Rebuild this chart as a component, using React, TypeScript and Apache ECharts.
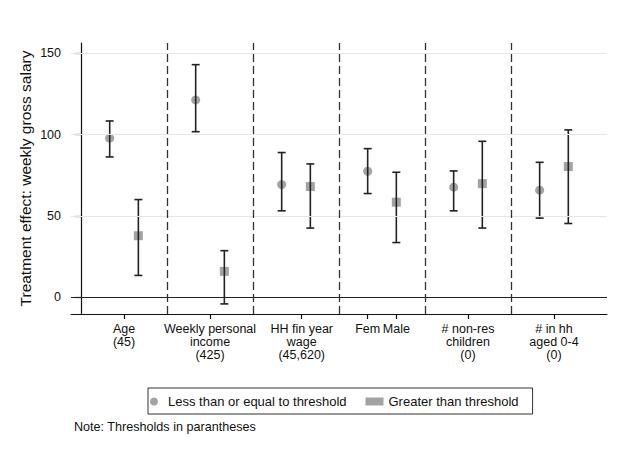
import React, { useEffect, useRef } from "react";
import * as echarts from "echarts";

const groupLabels = [
  "Age\n(45)",
  "Weekly personal\nincome\n(425)",
  "HH fin year\nwage\n(45,620)",
  "Fem",
  "Male",
  "# non-res\nchildren\n(0)",
  "# in hh\naged 0-4\n(0)",
];
const labelPositions = [1.5, 4.5, 7.7, 10, 11, 13.5, 16.5];
const separators = [3, 6, 9, 12, 15];
const yTicks = [0, 50, 100, 150];
const gridValues = [50, 100, 150];

// Less than or equal to threshold (circles)
const lowX = [1, 4, 7, 10, 13, 16];
const lowEst = [97.8, 121.3, 69.3, 77.5, 67.7, 65.9];
const lowLo = [86.3, 101.8, 53.2, 63.8, 53.2, 48.7];
const lowHi = [108.4, 143.0, 89.0, 91.4, 77.7, 83.0];

// Greater than threshold (squares)
const highX = [2, 5, 8, 11, 14, 17];
const highEst = [37.9, 16.0, 68.1, 58.5, 69.9, 80.4];
const highLo = [13.5, -4.0, 42.6, 33.7, 42.6, 45.4];
const highHi = [60.1, 28.7, 82.0, 76.9, 95.9, 102.9];

const FONT = "'Liberation Sans', Arial, Helvetica, sans-serif";

export default function App() {
  const ref = useRef<HTMLDivElement>(null);
  useEffect(() => {
    if (!ref.current) return;
    const chart = echarts.init(ref.current, null, { renderer: "svg" });

    const errData = (xs: number[], lo: number[], hi: number[]) =>
      xs.map((x, i) => [x, lo[i], hi[i]]);

    const renderErr = (params: any, api: any) => {
      const x = api.value(0);
      const p1 = api.coord([x, api.value(1)]);
      const p2 = api.coord([x, api.value(2)]);
      const hw = 4;
      const style = { stroke: "#222", lineWidth: 1.6 };
      return {
        type: "group",
        children: [
          { type: "line", shape: { x1: p1[0], y1: p1[1], x2: p2[0], y2: p2[1] }, style },
          { type: "line", shape: { x1: p1[0] - hw, y1: p1[1], x2: p1[0] + hw, y2: p1[1] }, style },
          { type: "line", shape: { x1: p2[0] - hw, y1: p2[1], x2: p2[0] + hw, y2: p2[1] }, style },
        ],
      };
    };

    const findLabel = (v: number) => {
      for (let i = 0; i < labelPositions.length; i++) {
        if (Math.abs(labelPositions[i] - v) < 1e-6) return groupLabels[i];
      }
      return "";
    };

    chart.setOption({
      animation: false,
      textStyle: { fontFamily: FONT },
      grid: { left: 71, right: 16, top: 43, bottom: 139, containLabel: false },
      xAxis: {
        type: "value",
        min: -0.35,
        max: 18.35,
        axisLine: { show: true, onZero: false, lineStyle: { color: "#111", width: 1.2 } },
        axisTick: {
          show: true,
          customValues: labelPositions,
          length: 5,
          lineStyle: { color: "#111", width: 1.2 },
        },
        axisLabel: {
          show: true,
          customValues: labelPositions,
          formatter: (v: number) => findLabel(v),
          margin: 8,
          fontSize: 12.5,
          lineHeight: 13,
          color: "#111",
          fontFamily: FONT,
          align: "center",
        },
        splitLine: { show: false },
      },
      yAxis: {
        type: "value",
        min: -10.2,
        max: 156.3,
        name: "Treatment effect: weekly gross salary",
        nameLocation: "middle",
        nameGap: 38,
        nameMoveOverlap: false,
        nameTextStyle: { fontSize: 15.5, color: "#111", fontFamily: FONT },
        axisLine: { show: true, lineStyle: { color: "#111", width: 1.2 } },
        axisTick: {
          show: true,
          customValues: yTicks,
          length: 6,
          lineStyle: { color: "#111", width: 1.2 },
        },
        axisLabel: {
          show: true,
          customValues: yTicks,
          margin: 10,
          fontSize: 12.5,
          color: "#111",
          fontFamily: FONT,
        },
        splitLine: { show: false },
      },
      legend: {
        left: 148,
        top: 388,
        orient: "horizontal",
        data: ["Less than or equal to threshold", "Greater than threshold"],
        borderColor: "#333",
        borderWidth: 1,
        borderRadius: 0,
        padding: [7, 14, 6, 2],
        itemWidth: 18,
        itemHeight: 8,
        itemGap: 19,
        textStyle: { fontSize: 13, color: "#111", fontFamily: FONT },
      },
      graphic: [
        {
          type: "text",
          left: 74,
          top: 420,
          style: {
            text: "Note: Thresholds in parantheses",
            fontSize: 12.6,
            fill: "#111",
            fontFamily: FONT,
          },
        },
      ],
      series: [
        {
          type: "line",
          name: "refs",
          data: [],
          z: 1,
          silent: true,
          markLine: {
            silent: true,
            symbol: "none",
            label: { show: false },
            animation: false,
            data: [
              ...gridValues.map((v) => ({
                yAxis: v,
                lineStyle: { color: "#e6e6e6", width: 1.2, type: "solid" },
              })),
              { yAxis: 0, lineStyle: { color: "#222", width: 1.2, type: "solid" } },
              ...separators.map((v) => ({
                xAxis: v,
                lineStyle: { color: "#333", width: 1.3, type: [8, 4] },
              })),
            ],
          },
        },
        {
          type: "scatter",
          name: "Less than or equal to threshold",
          symbol: "circle",
          symbolSize: 9,
          itemStyle: { color: "#8c8c8c" },
          data: lowX.map((x, i) => [x, lowEst[i]]),
          z: 2,
        },
        {
          type: "scatter",
          name: "Greater than threshold",
          symbol: "rect",
          symbolSize: 9,
          itemStyle: { color: "#8c8c8c" },
          data: highX.map((x, i) => [x, highEst[i]]),
          z: 2,
        },
        {
          type: "custom",
          name: "errLow",
          renderItem: renderErr,
          data: errData(lowX, lowLo, lowHi),
          encode: { x: 0, y: [1, 2] },
          z: 3,
        },
        {
          type: "custom",
          name: "errHigh",
          renderItem: renderErr,
          data: errData(highX, highLo, highHi),
          encode: { x: 0, y: [1, 2] },
          z: 3,
        },
      ],
    });
    return () => chart.dispose();
  }, []);
  return (
    <div
      ref={ref}
      style={{ position: "absolute", left: 0, top: 0, width: 623, height: 453, background: "#fff" }}
    />
  );
}
